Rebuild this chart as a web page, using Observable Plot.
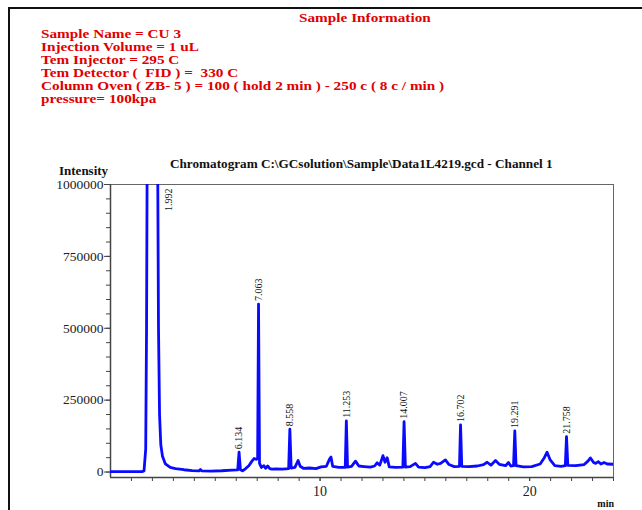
<!DOCTYPE html>
<html>
<head>
<meta charset="utf-8">
<script src="https://cdn.jsdelivr.net/npm/d3@7"></script>
<script src="https://cdn.jsdelivr.net/npm/@observablehq/plot@0.6"></script>
<style>
  html, body { margin: 0; padding: 0; background: #fff; }
  #page { position: relative; width: 642px; height: 510px; overflow: hidden; background: #fff; font-family: "Liberation Serif", "Times New Roman", serif; }
  #border { position: absolute; left: 8px; top: 7px; width: 700px; height: 600px; border: 2px solid #111; box-sizing: border-box; }
  .info { position: absolute; color: #e00000; font-weight: bold; font-size: 13.5px; line-height: 13px; white-space: pre; transform: scaleX(1.13); transform-origin: 0 0; }
  .lbl { position: absolute; color: #111; font-weight: bold; white-space: pre; }
  #chart { position: absolute; left: 0; top: 150px; }
</style>
</head>
<body>
<div id="page">
  <div id="border"></div>
  <div class="info" id="infoTitle" style="left:299px; top:12px; line-height:12px;"></div>
  <div class="info" id="infoLines" style="left:41px; top:27px;"></div>
  <div class="lbl" id="title" style="left:170px; top:157px; font-size:13.2px; line-height:13px;"></div>
  <div class="lbl" id="ylabel" style="left:59px; top:164px; font-size:13px; line-height:13px;"></div>
  <div class="lbl" id="xlabel" style="right:28px; top:499px; font-size:10px; line-height:10px;"></div>
  <div id="chart"></div>
</div>
<script>
// ---- Text content ----
const infoTitle = "Sample Information";
const infoLines = [
  "Sample Name = CU 3",
  "Injection Volume = 1 uL",
  "Tem Injector = 295 C",
  "Tem Detector (  FID ) =  330 C",
  "Column Oven ( ZB- 5 ) = 100 ( hold 2 min ) - 250 c ( 8 c / min )",
  "pressure= 100kpa"
];
const chartTitle = "Chromatogram C:\\GCsolution\\Sample\\Data1L4219.gcd - Channel 1";
const yAxisLabel = "Intensity";
const xAxisLabel = "min";

// ---- Axis ticks ----
const yTickLabels = [0, 250000, 500000, 750000, 1000000];
const xTickLabels = [10, 20];

// ---- Trace (retention time, min) and intensity ----
const traceTime = [0, 1.50, 1.60, 1.68, 1.72, 1.75, 1.99, 2.25, 2.29, 2.34, 2.40, 2.48, 2.62, 2.85, 3.1, 3.5, 3.9, 4.22, 4.29, 4.36, 4.8, 5.3, 5.8, 6.07, 6.134, 6.20, 6.30, 6.45, 6.60, 6.75, 6.85, 6.97, 7.02, 7.063, 7.11, 7.20, 7.32, 7.40, 7.50, 7.60, 7.70, 7.90, 8.20, 8.50, 8.558, 8.62, 8.80, 8.95, 9.05, 9.20, 9.50, 9.80, 10.05, 10.30, 10.45, 10.52, 10.60, 10.90, 11.20, 11.253, 11.31, 11.50, 11.69, 11.85, 12.10, 12.40, 12.60, 12.72, 12.85, 13.00, 13.10, 13.20, 13.30, 13.60, 13.95, 14.007, 14.07, 14.30, 14.55, 14.70, 15.00, 15.25, 15.41, 15.60, 15.75, 15.98, 16.15, 16.40, 16.65, 16.702, 16.76, 17.10, 17.50, 17.80, 17.97, 18.15, 18.37, 18.55, 18.85, 18.99, 19.10, 19.23, 19.291, 19.35, 19.70, 20.10, 20.50, 20.70, 20.83, 20.98, 21.20, 21.50, 21.70, 21.758, 21.82, 22.20, 22.60, 22.78, 22.90, 23.05, 23.15, 23.28, 23.40, 23.55, 23.70, 24.0];
const traceIntensity = [1500, 1500, 4000, 80000, 500000, 1100000, 3200000, 1100000, 500000, 200000, 95000, 55000, 28000, 16000, 12000, 8000, 5000, 4000, 9000, 4000, 3500, 4500, 6500, 7500, 69000, 8000, 4000, 12000, 22000, 38000, 47000, 44000, 48000, 584000, 30000, 16000, 22000, 13000, 21000, 12000, 10000, 11000, 10000, 12000, 149000, 14000, 16000, 40000, 20000, 13000, 14000, 12000, 18000, 20000, 45000, 52000, 20000, 16000, 16000, 178000, 17000, 20000, 38000, 21000, 19000, 17000, 21000, 32000, 24000, 57000, 34000, 50000, 18000, 16000, 17000, 175000, 17000, 19000, 30000, 17000, 15000, 19000, 34000, 27000, 30000, 42000, 26000, 19000, 20000, 164000, 20000, 19000, 21000, 26000, 34000, 24000, 40000, 27000, 22000, 33000, 21000, 22000, 143000, 22000, 18000, 19000, 28000, 50000, 69000, 42000, 22000, 20000, 22000, 123000, 23000, 22000, 26000, 38000, 49000, 33000, 30000, 36000, 28000, 33000, 28000, 27000];

// ---- Labelled peaks ----
const peakTimes = [6.134, 7.063, 8.558, 11.253, 14.007, 16.702, 19.291, 21.758];
const peakHeights = [69000, 584000, 149000, 178000, 175000, 164000, 143000, 123000];
const peakLabels = ["6.134", "7.063", "8.558", "11.253", "14.007", "16.702", "19.291", "21.758"];
const mainPeakTime = [1.992];
const mainPeakLabel = ["1.992"];

// ---- Build ----
document.getElementById("infoTitle").textContent = infoTitle;
document.getElementById("infoLines").textContent = infoLines.join("\n");
document.getElementById("title").textContent = chartTitle;
document.getElementById("ylabel").textContent = yAxisLabel;
document.getElementById("xlabel").textContent = xAxisLabel;

const trace = traceTime.map((t, i) => ({t, v: traceIntensity[i]}));
const peaks = peakTimes.map((t, i) => ({t, v: peakHeights[i], label: peakLabels[i]}));
const mainPeak = mainPeakTime.map((t, i) => ({t, label: mainPeakLabel[i]}));

const yMinor = d3.range(0, 1000001, 50000);
const xMinor = d3.range(1, 25, 1);
const yMin = -19000;

const chart = Plot.plot({
  width: 642,
  height: 360,
  marginLeft: 110,
  marginRight: 29,
  marginTop: 34,
  marginBottom: 33,
  x: {domain: [0, 24]},
  y: {domain: [yMin, 1000000]},
  style: {fontFamily: "'Liberation Serif', 'Times New Roman', serif", background: "transparent", color: "#222"},
  marks: [
    Plot.frame({stroke: "#666", strokeWidth: 1}),
    Plot.axisY({ticks: yMinor, tickFormat: () => "", tickSize: 4, stroke: "#444", label: null}),
    Plot.axisY({ticks: yTickLabels, tickFormat: d3.format("d"), tickSize: 6, tickPadding: 1, fontSize: 13.5, fill: "#222", stroke: "#444", label: null}),
    Plot.axisX({ticks: xMinor, tickFormat: () => "", tickSize: 4, stroke: "#444", label: null}),
    Plot.axisX({ticks: xTickLabels, tickSize: 4, tickPadding: 5, fontSize: 14, fill: "#222", stroke: "#444", label: null}),
    Plot.ruleX([0], {stroke: "#444", strokeWidth: 1.5}),
    Plot.ruleY([yMin], {stroke: "#444", strokeWidth: 1.5}),
    Plot.line(trace, {x: "t", y: "v", stroke: "#0a0aff", strokeWidth: 2.8, clip: true, strokeLinejoin: "round"}),
    Plot.text(peaks, {x: "t", y: "v", text: "label", rotate: -90, textAnchor: "start", dy: -3, fontSize: 10, fill: "#111"}),
    Plot.text(mainPeak, {x: "t", frameAnchor: "top", text: "label", rotate: -90, textAnchor: "end", dx: 13, dy: 4, fontSize: 10, fill: "#111"})
  ]
});
document.getElementById("chart").appendChild(chart);
</script>
</body>
</html>
